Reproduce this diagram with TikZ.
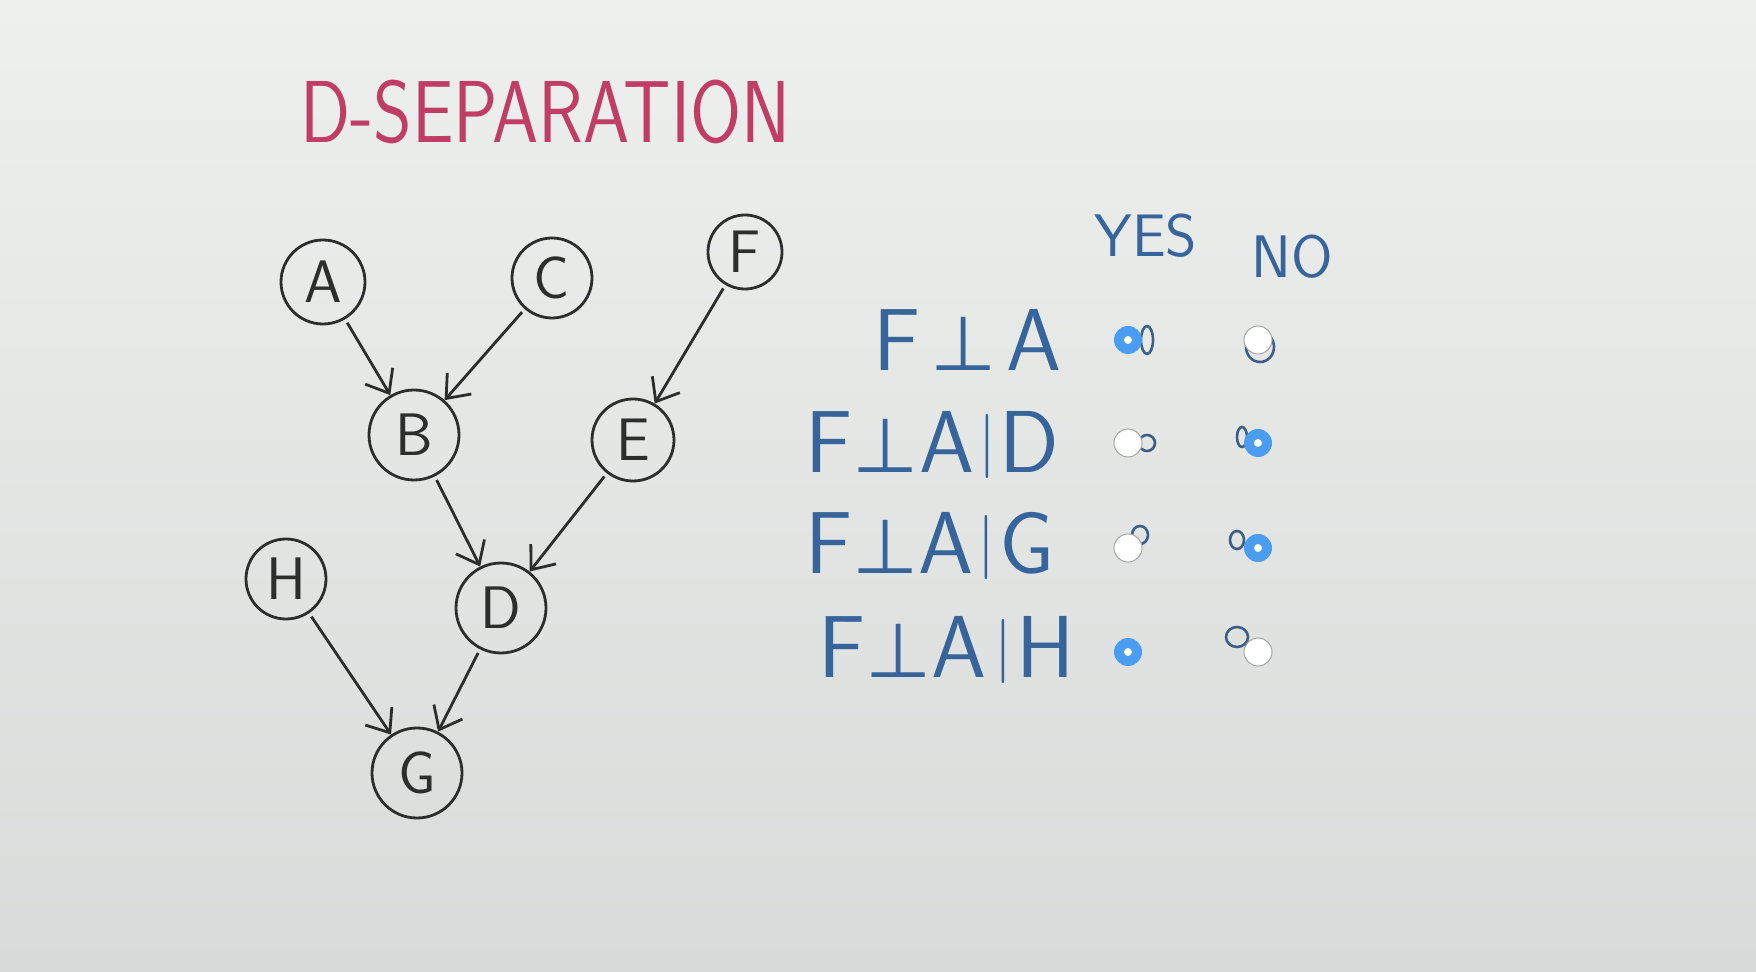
\documentclass[tikz,border=0pt]{standalone}
\usepackage{fontspec}
\newfontfamily\symfont{DejaVu Sans}
\usetikzlibrary{arrows.meta}
\definecolor{bgtop}{RGB}{238,240,238}
\definecolor{bgbot}{RGB}{216,219,217}
\definecolor{titlered}{RGB}{192,62,102}
\definecolor{penblue}{RGB}{55,100,155}
\definecolor{markblue}{RGB}{60,95,135}
\definecolor{radioblue}{RGB}{74,157,240}
\definecolor{radiogray}{RGB}{165,165,165}
\definecolor{ink}{RGB}{45,45,45}
\newcommand{\myperp}{{\symfont\fontsize{38}{38}\selectfont ⊥}}
\newcommand{\mybar}{\kern2pt\raisebox{5pt}{\fontsize{32}{32}\selectfont\textbar}\kern2pt}
\begin{document}
\begin{tikzpicture}[x=0.5pt,y=-0.5pt,
  gnode/.style={circle,draw=ink,line width=1.4pt,inner sep=0pt,minimum size=#1,
    font=\sffamily\fontsize{30}{30}\selectfont,text=ink},
  gnode/.default=42pt,
  edge/.style={draw=ink,line width=1.4pt,shorten <=2pt,
    -{Straight Barb[length=10pt,width=16pt,line width=1.4pt]}},
  rowlabel/.style={anchor=east,inner sep=0pt,text=penblue,
    font=\sffamily\fontsize{44}{44}\selectfont},
  colhead/.style={inner sep=0pt,text=penblue,font=\sffamily\fontsize{30}{30}\selectfont},
  radioon/.style={circle,fill=radioblue,minimum size=14pt,inner sep=0pt,
    path picture={\fill[white] (path picture bounding box.center) circle (2pt);}},
  radiooff/.style={circle,fill=white,draw=radiogray,line width=0.5pt,minimum size=14pt,inner sep=0pt},
  penmark/.style={draw=markblue,line width=1.3pt}
]
\shade[top color=bgtop,bottom color=bgbot] (0,0) rectangle (1756,972);
\useasboundingbox (0,0) rectangle (1756,972);

% title
\node[anchor=west,inner sep=0pt,text=titlered,font=\sffamily\fontsize{44}{44}\selectfont]
  (title) at (300,112) {\scalebox{0.84}[1]{D-SEPARATION}};

% graph
\node[gnode=42pt] (A) at (323,282) {A};
\node[gnode=40pt] (C) at (552,278) {C};
\node[gnode=37pt] (F) at (745,252) {F};
\node[gnode=45pt] (B) at (414,435) {B};
\node[gnode=41pt] (E) at (633,440) {E};
\node[gnode=40pt] (H) at (286,579) {H};
\node[gnode=45pt] (D) at (501,608) {D};
\node[gnode=45pt] (G) at (417,773) {G};

\draw[edge] (A) -- (B);
\draw[edge] (C) -- (B);
\draw[edge] (F) -- (E);
\draw[edge] (B) -- (D);
\draw[edge] (E) -- (D);
\draw[edge] (H) -- (G);
\draw[edge] (D) -- (G);

% column heads
\node[colhead] (yes) at (1146,236) {YES};
\node[colhead] (no) at (1292,257) {NO};

% row labels
\node[rowlabel] (r1) at (1062,340) {F\kern5pt\myperp\kern5pt A};
\node[rowlabel] (r2) at (1060,445) {F\myperp A\mybar D};
\node[rowlabel] (r3) at (1055,546) {F\myperp A\mybar G};
\node[rowlabel] (r4) at (1075,650) {F\myperp A\kern2pt\mybar H};

% pen marks
\draw[penmark] (1147,340) ellipse (3pt and 7pt);
\draw[penmark] (1260,347) ellipse (7pt and 7.5pt);
\draw[penmark] (1147,443) ellipse (4pt and 4pt);
\draw[penmark] (1242,437) ellipse (2.5pt and 5pt);
\draw[penmark] (1140,535) ellipse (4pt and 4.5pt);
\draw[penmark] (1237,540) ellipse (3.5pt and 4.5pt);
\draw[penmark] (1237,637) ellipse (5.5pt and 5pt);

% radio buttons
\node[radioon]  (y1) at (1128,340) {};
\node[radiooff] (n1) at (1258,340) {};
\node[radiooff] (y2) at (1128,443) {};
\node[radioon]  (n2) at (1258,443) {};
\node[radiooff] (y3) at (1128,548) {};
\node[radioon]  (n3) at (1258,548) {};
\node[radioon]  (y4) at (1128,652) {};
\node[radiooff] (n4) at (1258,652) {};
\end{tikzpicture}
\end{document}
